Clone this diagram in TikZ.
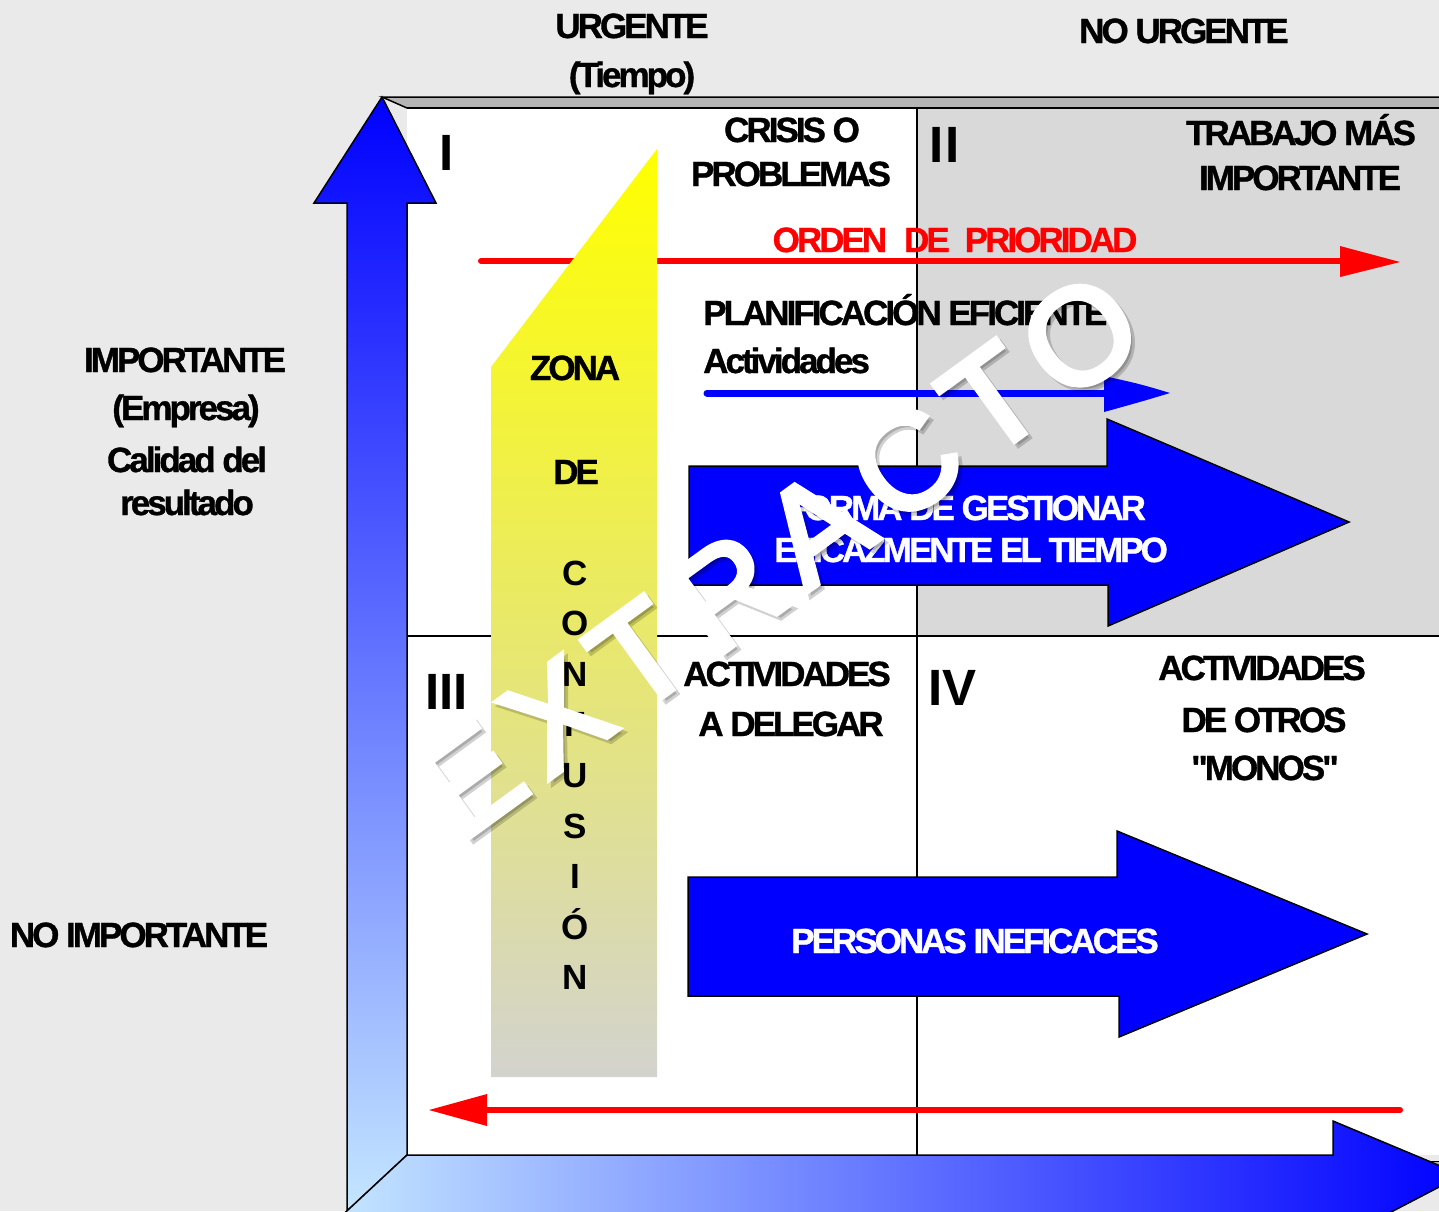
\documentclass[tikz,border=0pt]{standalone}
\usepackage{fontspec}
\setmainfont{Liberation Sans}
\newfontfamily\cf{Liberation Sans}[LetterSpace=-8.5, FakeBold=1]
\newfontfamily\wf{Liberation Sans}[LetterSpace=12, FakeBold=4]
\definecolor{bg}{RGB}{234,234,234}
\definecolor{qgray}{RGB}{217,217,217}
\definecolor{band}{RGB}{180,180,180}
\definecolor{lb}{RGB}{196,230,255}
\definecolor{yz}{RGB}{255,255,0}
\definecolor{yg}{RGB}{211,211,207}
\definecolor{pb}{RGB}{0,0,255}
\definecolor{pr}{RGB}{255,0,0}
\tikzset{
  lbl/.style={font=\cf\bfseries\fontsize{35}{42}\selectfont, inner sep=0pt, anchor=base},
  wlbl/.style={lbl, text=white},
  roman/.style={font=\bfseries\fontsize{51}{60}\selectfont, inner sep=0pt, anchor=base west},
  vlet/.style={font=\bfseries\fontsize{35}{42}\selectfont, inner sep=0pt, anchor=base},
  outl/.style={draw=black, line width=1.5pt, line join=miter},
  bigarrow/.style={outl, fill=pb},
  wmark/.style={font=\wf\fontsize{136}{136}\selectfont, inner sep=0pt, rotate=36},
}
\begin{document}
\begin{tikzpicture}[x=1pt,y=-1pt]
\useasboundingbox (0,0) rectangle (1439,1211);
\fill[bg] (0,0) rectangle (1439,1211);
% back top band
\filldraw[fill=band, outl] (382,97) -- (1460,97) -- (1460,108) -- (407,108) -- cycle;
% quadrants
\fill[white] (407,108) rectangle (1460,1155);
\fill[qgray] (917,108) rectangle (1460,636);
\draw[black, line width=1.5pt] (917,108) -- (917,1155);
\draw[black, line width=1.5pt] (407,636) -- (1460,636);
\draw[black, line width=1.5pt] (407,108) -- (1460,108);
% small gray band at bottom right
\filldraw[fill=band, draw=black, line width=1pt] (1400,1161) -- (1460,1161) -- (1460,1168) -- (1400,1168) -- cycle;
% vertical wall arrow
\path[outl, top color=pb, bottom color=lb] (382,97) -- (436,203) -- (407,203) -- (407,1155) -- (347,1211) -- (347,203) -- (314,203) -- cycle;
% floor arrow
\path[outl, left color=lb, right color=pb] (407,1155) -- (1333,1155) -- (1333,1121) -- (1462,1175) -- (1372,1222) -- (335,1222) -- cycle;
% red top arrow
\coordinate (rs) at (481,261);
\coordinate (re) at (1342,261);
\draw[pr, line width=6pt, line cap=round] (rs) -- (re);
\fill[pr] (1340,246) -- (1400,262) -- (1340,277) -- cycle;
% yellow confusion zone
\path[top color=yz, bottom color=yg] (657,149) -- (657,1077) -- (491,1077) -- (491,367) -- cycle;
% blue thin arrow
\coordinate (bs) at (707,393);
\coordinate (be) at (1108,393);
\draw[pb, line width=7pt, line cap=round] (bs) -- (be);
\fill[pb] (1104,376) .. controls (1140,384) .. (1170,393) .. controls (1140,402) .. (1104,412) -- cycle;
% big blue arrows
\path[bigarrow] (689,466) -- (1107,466) -- (1107,419) -- (1349,522) -- (1108,626) -- (1108,585) -- (689,585) -- cycle;
\path[bigarrow] (688,877) -- (1117,877) -- (1117,831) -- (1367,934) -- (1119,1037) -- (1119,996) -- (688,996) -- cycle;
% red bottom arrow
\coordinate (ls) at (1400,1110);
\coordinate (le) at (483,1110);
\draw[pr, line width=6pt, line cap=round] (ls) -- (le);
\fill[pr] (487,1094) -- (429,1110) -- (487,1126) -- cycle;
% headings
\node[lbl] (urg1) at (632,38) {URGENTE};
\node[lbl] (urg2) at (632,87) {(Tiempo)};
\node[lbl] (nourg) at (1184,43) {NO URGENTE};
\node[lbl] (imp1) at (185,372) {IMPORTANTE};
\node[lbl] (imp2) at (186,420) {(Empresa)};
\node[lbl] (imp3) at (187,472) {Calidad del};
\node[lbl] (imp4) at (187,515) {resultado};
\node[lbl] (noimp) at (139,947) {NO IMPORTANTE};
% roman numerals
\node[roman] (r1) at (439,170) {I};
\node[roman] (r2) at (929,162) {I\hspace{2pt}I};
\node[roman] (r3) at (425,709) {III};
\node[roman] (r4) at (928,705) {IV};
% quadrant texts
\node[lbl] (cr1) at (792,142) {CRISIS O};
\node[lbl] (cr2) at (791,186) {PROBLEMAS};
\node[lbl] (tr1) at (1301,145) {TRABAJO MÁS};
\node[lbl] (tr2) at (1300,190) {IMPORTANTE};
\node[lbl, text=pr] (ord) at (955,252) {ORDEN\hspace{17pt}DE\hspace{15pt}PRIORIDAD};
\node[lbl, anchor=base west] (plan) at (703,325) {PLANIFICACIÓN EFICIENTE};
\node[lbl, anchor=base west] (act) at (703,373) {Actividades};
\node[wlbl] (fo1) at (966,520) {FORMA DE GESTIONAR};
\node[wlbl] (fo2) at (971,562) {EFICAZMENTE EL TIEMPO};
\node[lbl] (a3a) at (787,686) {ACTIVIDADES};
\node[lbl] (a3b) at (791,736) {A DELEGAR};
\node[lbl] (a4a) at (1262,680) {ACTIVIDADES};
\node[lbl] (a4b) at (1264,732) {DE OTROS};
\node[lbl] (a4c) at (1265,780) {"MONOS"};
\node[wlbl] (per) at (975,953) {PERSONAS INEFICACES};
% zone texts
\node[lbl] (zona) at (575,380) {ZONA};
\node[lbl] (zde) at (576,484) {DE};
\foreach \l [count=\i from 0] in {C,O,N,F,U,S,I,Ó,N}
  \node[vlet] (cf\i) at (575,585+50.6*\i) {\l};
% watermark
\node[wmark, text=black, opacity=0.18] (wms) at (782,559) {EXTRACTO};
\node[wmark, text=white] (wm) at (778,555) {EXTRACTO};
\end{tikzpicture}
\end{document}
